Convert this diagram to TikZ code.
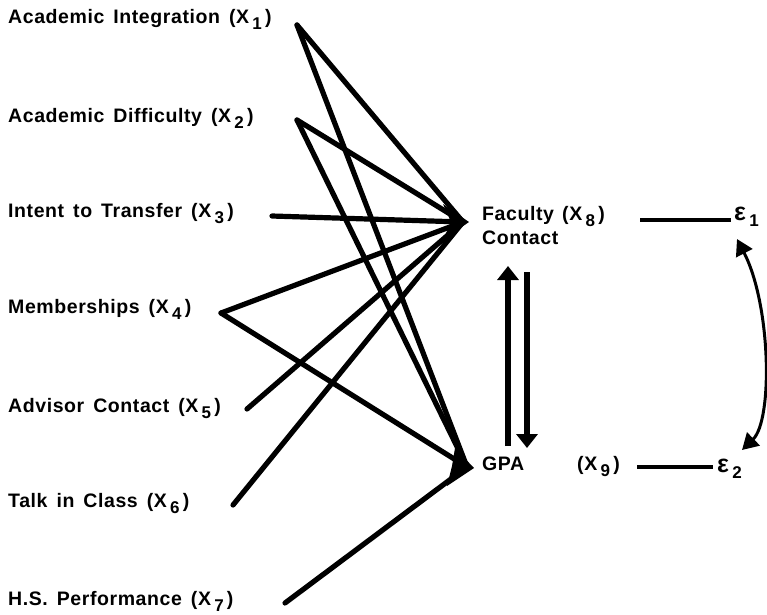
\documentclass[tikz,border=0pt]{standalone}
\usepackage{fontspec}
\setmainfont{Liberation Sans}[LetterSpace=3, WordSpace=1.5]
\usetikzlibrary{arrows.meta}

% lowered index digit used in the variable labels
\newcommand\lowsub[1]{\,\raisebox{-6pt}{\fontsize{17}{17}\selectfont #1}\,}
% enlarged epsilon for the disturbance terms
\newcommand\bigeps{{\fontsize{25}{25}\selectfont ε}}

\begin{document}
\begin{tikzpicture}[x=1pt, y=-1pt,
  lbl/.style={anchor=base west, inner sep=0pt, font=\fontsize{19.5}{20}\selectfont\bfseries},
  link/.style={line width=5.2pt, line cap=round},
  thin link/.style={line width=3.6pt},
  hub/.style={fill=black},
  uptip/.style={-{Triangle[length=14pt,width=21pt]}},
  curvetip/.style={{Triangle[length=16pt,width=18pt]}-{Triangle[length=16pt,width=18pt]}}]

\useasboundingbox (0,0) rectangle (767,614);

% exogenous variables
\node[lbl] (x1) at (8,23)  {Academic Integration (X\lowsub{1})};
\node[lbl] (x2) at (8,122) {Academic Difficulty (X\lowsub{2})};
\node[lbl] (x3) at (8,217) {Intent to Transfer (X\lowsub{3})};
\node[lbl] (x4) at (8,313) {Memberships (X\lowsub{4})};
\node[lbl] (x5) at (8,412) {Advisor Contact (X\lowsub{5})};
\node[lbl] (x6) at (8,507) {Talk in Class (X\lowsub{6})};
\node[lbl] (x7) at (8,605) {H.S. Performance (X\lowsub{7})};

% endogenous variables
\node[lbl] (fac) at (482,220) {Faculty};
\node[lbl] (con) at (482,244) {Contact};
\node[lbl] (x8)  at (562,220) {(X\lowsub{8})};
\node[lbl] (gpa) at (482,470) {GPA};
\node[lbl] (x9)  at (577,470) {(X\lowsub{9})};
\node[lbl] (e1)  at (734,220) {\bigeps\lowsub{1}};
\node[lbl] (e2)  at (717,472) {\bigeps\lowsub{2}};

% line start points beside the labels
\coordinate (s1) at (297,25);
\coordinate (s2) at (297,120);
\coordinate (s3) at (272,216);
\coordinate (s4) at (221,313);
\coordinate (s5) at (247,409);
\coordinate (s6) at (233,505);
\coordinate (s7) at (285,603);

% convergence points
\coordinate (fc) at (463,222);
\coordinate (gp) at (467,467);

% paths into faculty contact
\foreach \s in {s1,s2,s3,s4,s5,s6}
  \draw[link] (\s) -- (fc);
% paths into GPA
\foreach \s in {s1,s2,s4,s7}
  \draw[link] (\s) -- (gp);

% arrowheads formed where the paths meet
\fill[hub] (443,204) -- (469,222) -- (443,240) -- (451,222) -- cycle;
\fill[hub] (455,448) -- (474,468) -- (447,486) -- (452,466) -- cycle;

% reciprocal paths between faculty contact and GPA
\coordinate (ua) at (508,446);
\coordinate (ub) at (508,266);
\coordinate (da) at (527,272);
\coordinate (db) at (527,448);
\draw[link, line cap=butt, uptip] (ua) -- (ub);
\draw[link, line cap=butt, uptip] (da) -- (db);

% disturbance terms
\coordinate (l1a) at (640,220);
\coordinate (l1b) at (731,220);
\coordinate (l2a) at (637,467);
\coordinate (l2b) at (713,467);
\draw[thin link] (l1a) -- (l1b);
\draw[thin link] (l2a) -- (l2b);

% correlated disturbances
\coordinate (c1) at (737,239);
\coordinate (c2) at (742,450);
\draw[line width=3pt, curvetip] (c1) .. controls (771,305) and (773,420) .. (c2);

\end{tikzpicture}
\end{document}
